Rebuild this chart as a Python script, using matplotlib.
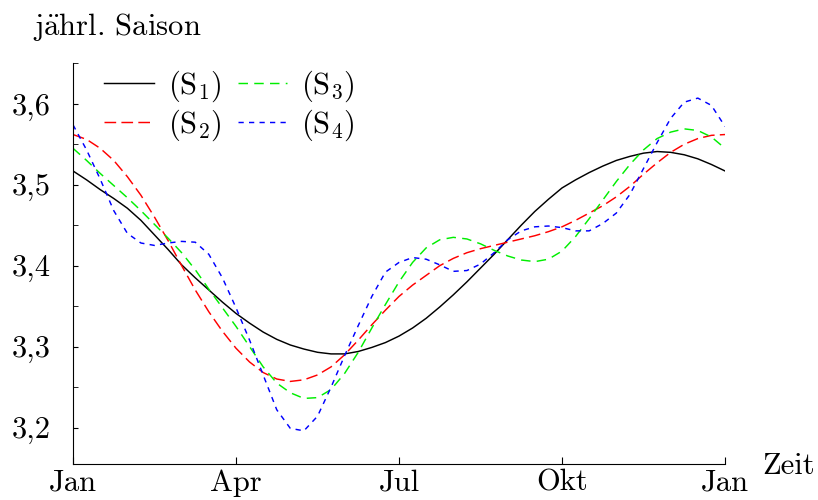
import matplotlib
matplotlib.use("Agg")
import matplotlib.pyplot as plt

plt.rcParams["font.family"] = ["cmr10", "DejaVu Serif"]
plt.rcParams["mathtext.fontset"] = "cm"
plt.rcParams["axes.unicode_minus"] = False

# saisonale Komponente im Viertelmonatsraster (0 = Jan, 12 = Jan des Folgejahres)
months = [i * 0.25 for i in range(49)]
s1 = [3.517, 3.506, 3.494, 3.483, 3.471, 3.456, 3.438, 3.420, 3.401, 3.385, 3.370, 3.355,
      3.341, 3.329, 3.318, 3.309, 3.302, 3.297, 3.293, 3.291, 3.291, 3.294, 3.299, 3.305,
      3.313, 3.323, 3.335, 3.349, 3.364, 3.380, 3.397, 3.414, 3.432, 3.450, 3.467, 3.482,
      3.496, 3.506, 3.515, 3.523, 3.530, 3.535, 3.539, 3.541, 3.540, 3.537, 3.532, 3.525,
      3.517]
s2 = [3.562, 3.556, 3.545, 3.530, 3.510, 3.487, 3.460, 3.431, 3.400, 3.370, 3.343, 3.319,
      3.298, 3.281, 3.268, 3.260, 3.257, 3.259, 3.265, 3.275, 3.290, 3.308, 3.327, 3.345,
      3.362, 3.376, 3.388, 3.400, 3.409, 3.416, 3.421, 3.425, 3.429, 3.433, 3.437, 3.442,
      3.448, 3.456, 3.465, 3.474, 3.485, 3.498, 3.513, 3.527, 3.540, 3.550, 3.557, 3.561,
      3.562]
s3 = [3.545, 3.530, 3.514, 3.499, 3.484, 3.468, 3.451, 3.434, 3.416, 3.395, 3.371, 3.348,
      3.325, 3.300, 3.275, 3.255, 3.243, 3.236, 3.237, 3.247, 3.267, 3.293, 3.323, 3.352,
      3.380, 3.404, 3.422, 3.432, 3.435, 3.433, 3.427, 3.419, 3.412, 3.407, 3.405, 3.408,
      3.418, 3.436, 3.458, 3.481, 3.504, 3.525, 3.543, 3.557, 3.565, 3.569, 3.567, 3.559,
      3.545]
s4 = [3.574, 3.543, 3.507, 3.468, 3.440, 3.428, 3.425, 3.428, 3.430, 3.429, 3.414, 3.385,
      3.348, 3.308, 3.265, 3.222, 3.199, 3.196, 3.214, 3.250, 3.289, 3.326, 3.362, 3.392,
      3.404, 3.410, 3.408, 3.401, 3.393, 3.394, 3.402, 3.416, 3.432, 3.443, 3.448, 3.449,
      3.447, 3.443, 3.443, 3.452, 3.465, 3.488, 3.520, 3.552, 3.582, 3.602, 3.607, 3.598,
      3.572]

x_ticks = [0, 3, 6, 9, 12]
x_labels = ["Jan", "Apr", "Jul", "Okt", "Jan"]
y_ticks = [3.2, 3.3, 3.4, 3.5, 3.6]
y_labels = ["3,2", "3,3", "3,4", "3,5", "3,6"]
y_minor = [3.25, 3.35, 3.45, 3.55, 3.65]

fs = 22
fig = plt.figure(figsize=(8.18, 5.0), dpi=100)
ax = fig.add_axes([73 / 818, 1 - 464 / 500, 652 / 818, 400.7 / 500])

ax.plot(months, s1, color="black", lw=1.05, label="(S$_1$)")
ax.plot(months, s2, color="#ff0000", lw=1.05, dashes=(8, 3.6), label="(S$_2$)")
ax.plot(months, s3, color="#00ee00", lw=1.05, dashes=(6.5, 4.3), label="(S$_3$)")
ax.plot(months, s4, color="#0000ff", lw=1.05, dashes=(3.6, 3.6), label="(S$_4$)")

ax.set_xlim(0, 12)
ax.set_ylim(3.155, 3.65)
ax.spines["top"].set_visible(False)
ax.spines["right"].set_visible(False)
ax.set_xticks(x_ticks)
ax.set_xticklabels(x_labels, fontsize=fs)
ax.set_yticks(y_ticks)
ax.set_yticklabels(y_labels, fontsize=fs)
ax.set_yticks(y_minor, minor=True)
ax.tick_params(axis="x", direction="in", length=5, pad=4)
ax.tick_params(axis="y", which="both", direction="in", length=3.5, pad=16)

ax.legend(loc="upper left", bbox_to_anchor=(0.029, 1.017), ncol=2, frameon=False,
          fontsize=fs, handlelength=1.63, handletextpad=0.46, columnspacing=0.52,
          labelspacing=0.1, borderaxespad=0.0)

fig.text(33 / 818, 1 - 35 / 500, r"j$\ddot{\mathrm{a}}$hrl. Saison", fontsize=fs, va="baseline")
fig.text(762 / 818, 1 - 474 / 500, "Zeit", fontsize=fs, va="baseline")

fig.savefig("out.png", dpi=100)
